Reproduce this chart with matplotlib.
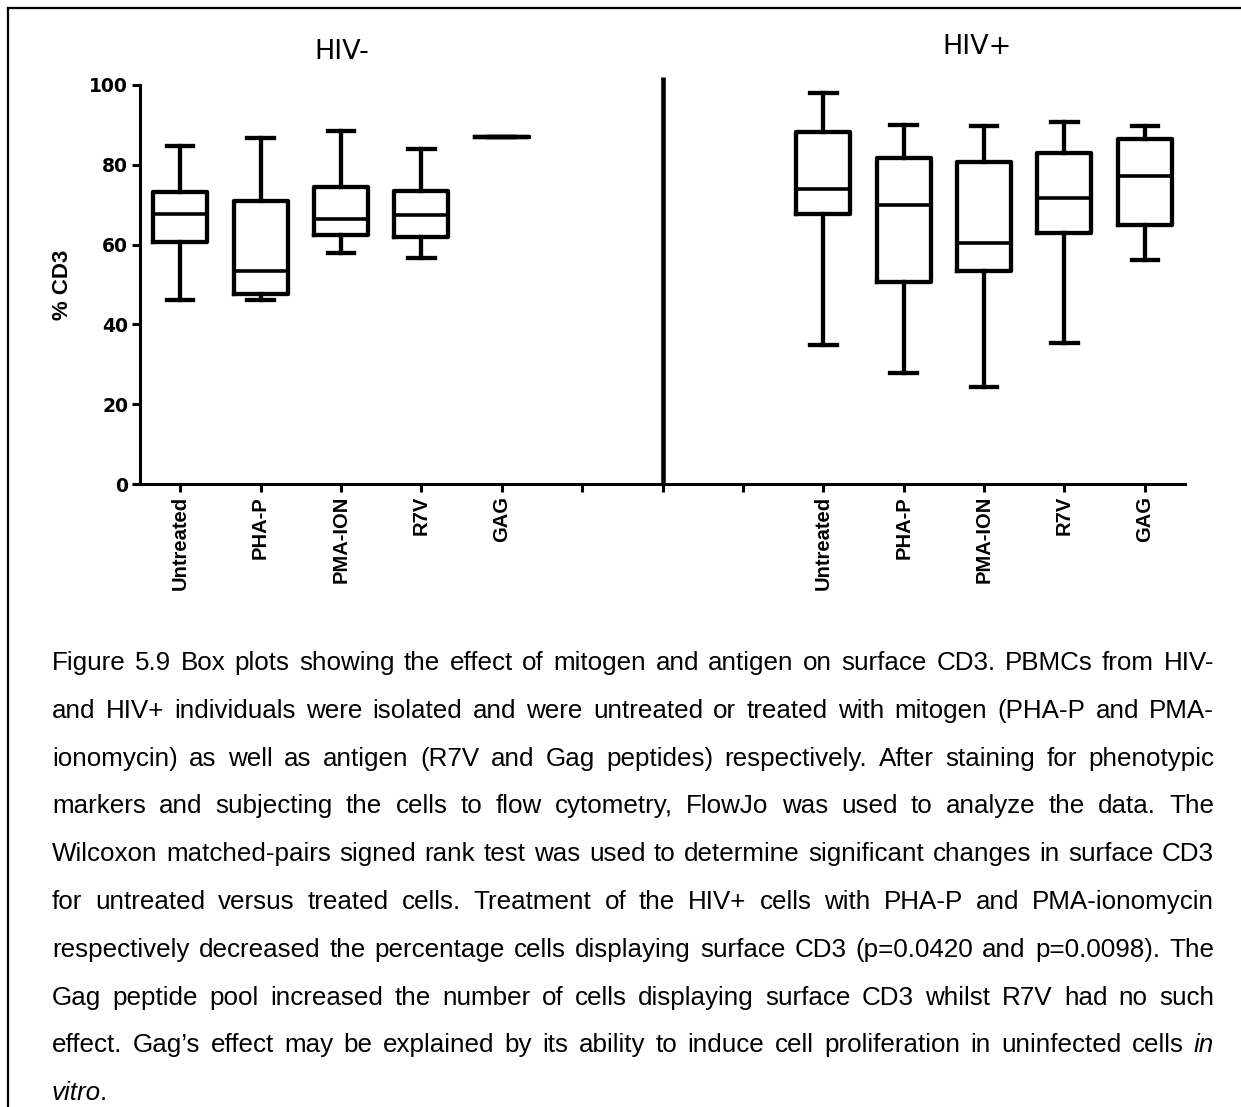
import matplotlib
matplotlib.use('Agg')
import matplotlib.pyplot as plt
from matplotlib.lines import Line2D

W, H, DPI = 1241, 1107, 100

# box plot values (% CD3)
groups = ['Untreated', 'PHA-P', 'PMA-ION', 'R7V', 'GAG']

neg_lo = [46.2, 46.1, 58.0, 56.6, 87.0]
neg_q1 = [60.6, 47.5, 62.4, 61.8, 87.0]
neg_med = [67.7, 53.3, 66.5, 67.3, 87.0]
neg_q3 = [73.1, 71.0, 74.5, 73.5, 87.0]
neg_hi = [84.8, 86.7, 88.4, 84.0, 87.0]

pos_lo = [34.8, 27.7, 24.2, 35.3, 56.1]
pos_q1 = [67.6, 50.7, 53.5, 63.0, 65.0]
pos_med = [73.9, 69.9, 60.5, 71.8, 77.2]
pos_q3 = [88.3, 81.8, 80.8, 83.0, 86.5]
pos_hi = [97.9, 90.1, 89.6, 90.8, 89.8]

neg_x = [1, 2, 3, 4, 5]
pos_x = [9, 10, 11, 12, 13]
tick_x = list(range(1, 14))
tick_labels = groups + ['', '', ''] + groups

caption_lines = [
    "Figure 5.9 Box plots showing the effect of mitogen and antigen on surface CD3. PBMCs from HIV-",
    "and HIV+ individuals were isolated and were untreated or treated with mitogen (PHA-P and PMA-",
    "ionomycin) as well as antigen (R7V and Gag peptides) respectively. After staining for phenotypic",
    "markers and subjecting the cells to flow cytometry, FlowJo was used to analyze the data. The",
    "Wilcoxon matched-pairs signed rank test was used to determine significant changes in surface CD3",
    "for untreated versus treated cells. Treatment of the HIV+ cells with PHA-P and PMA-ionomycin",
    "respectively decreased the percentage cells displaying surface CD3 (p=0.0420 and p=0.0098). The",
    "Gag peptide pool increased the number of cells displaying surface CD3 whilst R7V had no such",
    "effect. Gag\u2019s effect may be explained by its ability to induce cell proliferation in uninfected cells _in_",
    "_vitro_.",
]


def make_stats(lo, q1, med, q3, hi):
    return [dict(whislo=a, q1=b, med=c, q3=d, whishi=e, fliers=[])
            for a, b, c, d, e in zip(lo, q1, med, q3, hi)]


fig = plt.figure(figsize=(W / DPI, H / DPI), dpi=DPI)
ax = fig.add_axes([140 / W, 1 - 484 / H, (1185 - 140) / W, (484 - 85) / H])

line_kw = dict(color='black', linewidth=3.1)
for st, xs in [(make_stats(neg_lo, neg_q1, neg_med, neg_q3, neg_hi), neg_x),
               (make_stats(pos_lo, pos_q1, pos_med, pos_q3, pos_hi), pos_x)]:
    ax.bxp(st, positions=xs, widths=0.67, capwidths=0.33, showfliers=False,
           boxprops=line_kw, whiskerprops=line_kw, capprops=line_kw,
           medianprops=dict(color='black', linewidth=2.6), manage_ticks=False)

# divider between the two panels
ax.plot([7, 7], [0, 102], color='black', linewidth=3.3, clip_on=False,
        solid_capstyle='butt')

ax.set_xlim(0.5, 13.5)
ax.set_ylim(0, 100)
ax.set_yticks([0, 20, 40, 60, 80, 100])
ax.set_xticks(tick_x)
ax.set_xticklabels(tick_labels, rotation=90, fontsize=14.5, fontweight='bold',
                   family='Liberation Sans')
for lab in ax.get_yticklabels():
    lab.set_fontsize(13.5)
    lab.set_fontweight('bold')
    lab.set_family('DejaVu Sans')
ax.spines[['top', 'right']].set_visible(False)
ax.spines[['left', 'bottom']].set_linewidth(2.2)
ax.tick_params(axis='both', width=2.2, length=5.5, direction='out')
ax.tick_params(axis='x', pad=3)
ax.tick_params(axis='y', pad=3)


def px(x, y):
    return x / W, 1 - y / H


fig.text(*px(63, 285), '% CD3', rotation=90, ha='center', va='center',
         fontsize=16, fontweight='bold', family='Liberation Sans')
fig.text(*px(342, 59.3), 'HIV-', ha='center', va='baseline', fontsize=19.5,
         family='DejaVu Sans')
fig.text(*px(977, 54), 'HIV+', ha='center', va='baseline', fontsize=19.5,
         family='DejaVu Sans')

# frame around the figure
fig.add_artist(Line2D([8 / W, 8 / W], [0, 1 - 8 / H], color='black', lw=1.6,
                      transform=fig.transFigure))
fig.add_artist(Line2D([8 / W, 1], [1 - 8 / H, 1 - 8 / H], color='black', lw=1.6,
                      transform=fig.transFigure))

# justified caption
cap_left, cap_right = 52, 1214
renderer = fig.canvas.get_renderer()


def word_pieces(w):
    if w.startswith('_'):
        end = w.index('_', 1)
        pieces = [(w[1:end], 'italic')]
        if w[end + 1:]:
            pieces.append((w[end + 1:], 'normal'))
        return pieces
    return [(w, 'normal')]


def build_line(line, y, size):
    words = []
    for w in line.split(' '):
        arts = []
        pieces = word_pieces(w)
        for k, (txt, style) in enumerate(pieces):
            t = fig.text(0, y, txt, fontsize=size, style=style,
                         family='Liberation Sans', va='baseline', ha='left')
            wd = t.get_window_extent(renderer).width
            if style == 'italic' and k < len(pieces) - 1:
                wd -= 1  # small italic overhang before an upright piece
            arts.append((t, wd))
        words.append(arts)
    return words


# pick the font size so the tightest line fits with normal word spacing
base = 16.0
fit = []
for line in caption_lines[:-1]:
    words = build_line(line, 0, base)
    total = sum(wd for arts in words for _, wd in arts)
    total += (len(words) - 1) * 0.278 * base * DPI / 72
    fit.append((cap_right - cap_left) / total)
    for arts in words:
        for t, _ in arts:
            t.remove()
cap_size = base * min(fit) * 0.99

for i, line in enumerate(caption_lines):
    y = 1 - (670 + 47.8 * i) / H
    words = build_line(line, y, cap_size)
    widths = [sum(wd for _, wd in arts) for arts in words]
    if i < len(caption_lines) - 1 and len(words) > 1:
        gap = (cap_right - cap_left - sum(widths)) / (len(words) - 1)
    else:
        gap = 0.278 * cap_size * DPI / 72
    x = cap_left
    for arts, wd in zip(words, widths):
        xx = x
        for t, pw in arts:
            t.set_x(xx / W)
            xx += pw
        x += wd + gap

fig.savefig('out.png', dpi=DPI)
